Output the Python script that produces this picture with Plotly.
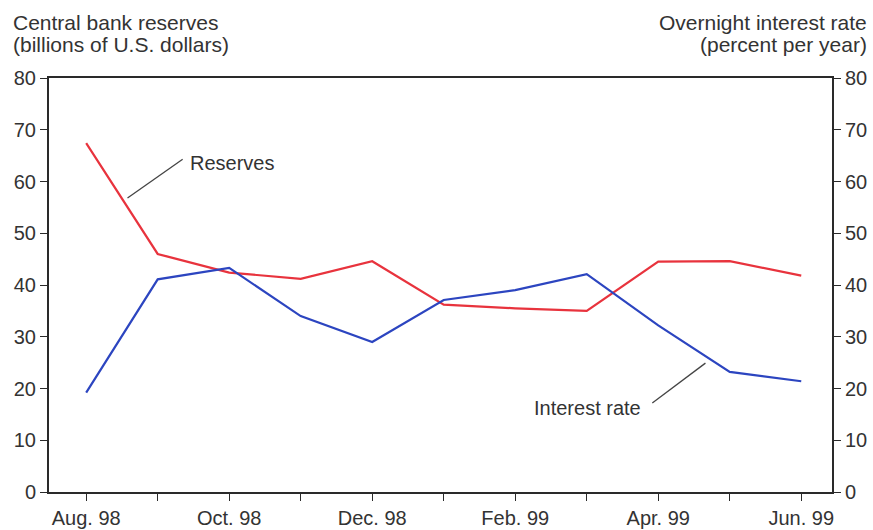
import plotly.graph_objects as go

months = ["Aug. 98", "Sep. 98", "Oct. 98", "Nov. 98", "Dec. 98", "Jan. 99",
          "Feb. 99", "Mar. 99", "Apr. 99", "May 99", "Jun. 99"]
tick_labels = ["Aug. 98", "", "Oct. 98", "", "Dec. 98", "",
               "Feb. 99", "", "Apr. 99", "", "Jun. 99"]
reserves = [67.4, 46.0, 42.4, 41.2, 44.6, 36.2, 35.5, 35.0, 44.5, 44.6, 41.8]
interest_rate = [19.2, 41.1, 43.3, 34.0, 29.0, 37.1, 39.0, 42.1, 32.2, 23.2, 21.4]
y_ticks = [0, 10, 20, 30, 40, 50, 60, 70, 80]

x = list(range(len(months)))
FONT = "Liberation Sans, Arial, sans-serif"
TXT = "#333333"
AX = "#2a2a2a"
FS = 20

fig = go.Figure()
fig.add_trace(go.Scatter(x=x, y=reserves, mode="lines", name="Reserves",
                         line=dict(color="#e8333d", width=2.2), yaxis="y"))
fig.add_trace(go.Scatter(x=x, y=interest_rate, mode="lines", name="Interest rate",
                         line=dict(color="#2c45c0", width=2.2), yaxis="y2"))

axis_common = dict(showgrid=False, zeroline=False, showline=True, linecolor=AX,
                   linewidth=2, ticks="outside", ticklen=7, tickcolor=AX,
                   tickwidth=1.4, automargin=False,
                   tickfont=dict(family=FONT, size=FS, color=TXT))

def py(p):
    return (492 - p) / 414

def px(p):
    return (p - 49) / 783

title_font = dict(family=FONT, size=FS, color=TXT)
big_font = dict(family=FONT, size=21, color=TXT)
fig.update_layout(
    width=873, height=530,
    margin=dict(l=49, r=41, t=78, b=38, autoexpand=False),
    paper_bgcolor="white", plot_bgcolor="white",
    showlegend=False,
    xaxis=dict(range=[-0.52, 10.43], tickmode="array", tickvals=x,
               ticktext=tick_labels, mirror=True, **axis_common),
    yaxis=dict(range=[0, 80], tickmode="array", tickvals=y_ticks, **axis_common),
    yaxis2=dict(range=[0, 80], tickmode="array", tickvals=y_ticks, overlaying="y",
                side="right", **axis_common),
    shapes=[
        dict(type="line", xref="x", yref="y", x0=0.578, y0=56.8, x1=1.349, y1=64.3,
             line=dict(color="#444444", width=1.3)),
        dict(type="line", xref="x", yref="y", x0=7.917, y0=17.2, x1=8.66, y1=24.9,
             line=dict(color="#444444", width=1.3)),
    ],
    annotations=[
        dict(text="Central bank reserves", xref="paper", yref="paper",
             x=px(11), y=py(22), xanchor="left", yanchor="middle",
             showarrow=False, font=big_font),
        dict(text="(billions of U.S. dollars)", xref="paper", yref="paper",
             x=px(11), y=py(44), xanchor="left", yanchor="middle",
             showarrow=False, font=big_font),
        dict(text="Overnight interest rate", xref="paper", yref="paper",
             x=px(869), y=py(22), xanchor="right", yanchor="middle",
             showarrow=False, font=big_font),
        dict(text="(percent per year)", xref="paper", yref="paper",
             x=px(869), y=py(44), xanchor="right", yanchor="middle",
             showarrow=False, font=big_font),
        dict(text="Reserves", xref="x", yref="y", x=1.43, y=63.6, xanchor="left",
             yanchor="middle", showarrow=False, font=title_font),
        dict(text="Interest rate", xref="x", yref="y", x=7.01, y=16.2, xanchor="center",
             yanchor="middle", showarrow=False, font=title_font),
    ],
)

fig.write_html("out.html", config={"displayModeBar": False},
               post_script="document.body.style.margin='0';document.body.style.overflow='hidden';")
